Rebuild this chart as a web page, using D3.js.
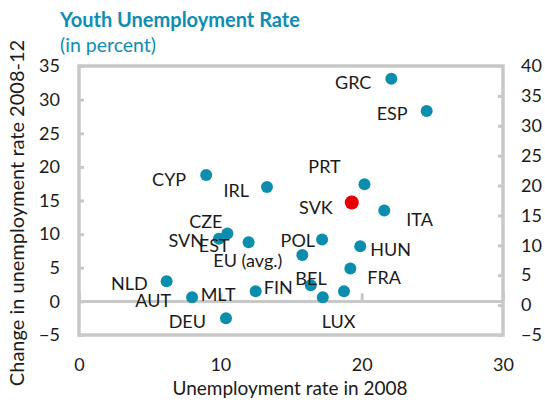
<!DOCTYPE html>
<html>
<head>
<meta charset="utf-8">
<script src="https://cdn.jsdelivr.net/npm/d3@7"></script>
<style>
  body { margin: 0; background: #fff; }
  svg { display: block; font-family: Lato, "Open Sans", sans-serif; }
</style>
</head>
<body>
<script>
// youth unemployment: rate in 2008 vs change 2008-12
var countries = ["GRC", "ESP", "CYP", "IRL", "PRT", "SVK", "ITA", "CZE", "SVN", "EST", "POL", "HUN",
                 "EU (avg.)", "FRA", "NLD", "AUT", "DEU", "MLT", "FIN", "LUX", "BEL"];
var rate2008 = [22.1, 24.6, 9.0, 13.3, 20.2, 19.3, 21.6, 10.5, 9.9, 12.0, 17.2, 19.9,
                15.8, 19.2, 6.2, 8.0, 10.4, 12.5, 16.4, 17.25, 18.75];
var change = [33.1, 28.3, 18.8, 17.0, 17.4, 14.7, 13.5, 10.1, 9.3, 8.8, 9.2, 8.2,
              6.9, 4.9, 3.0, 0.6, -2.5, 1.5, 2.4, 0.6, 1.5];
var highlight = "SVK";

var xTicks = [0, 10, 20, 30];
var yLeftTicks = [-5, 0, 5, 10, 15, 20, 25, 30, 35];
var yRightTicks = [-5, 0, 5, 10, 15, 20, 25, 30, 35, 40];

// label placement relative to the marker (px), like the excel labels
var labelPos = {
  "GRC": [-20, 10, "end"], "ESP": [-19, 9, "end"], "CYP": [-20, 11, "end"],
  "IRL": [-18, 10, "end"], "PRT": [-40, -11, "middle"], "SVK": [-19, 11, "end"],
  "ITA": [22, 15, "start"], "CZE": [-5, -5, "end"], "SVN": [-15, 8, "end"],
  "EST": [-19, 10, "end"], "POL": [-7, 7, "end"], "HUN": [10, 10, "start"],
  "EU (avg.)": [-20, 12, "end"], "FRA": [17, 16, "start"], "NLD": [-19, 9, "end"],
  "AUT": [-21, 10, "end"], "DEU": [-20, 10, "end"], "MLT": [-55, 10, "start"],
  "FIN": [-47, 9, "start"], "LUX": [-1, 31, "start"], "BEL": [-33, -6, "middle"]
};

var width = 545, height = 402;
var plot = {left: 79, right: 503, top: 66, bottom: 335};
var gridColor = "#c8c8c8";
var dotColor = "#0b8eae";
var titleColor = "#0d8db5";

var svg = d3.select("body").append("svg")
  .attr("width", width)
  .attr("height", height);

var x = d3.scaleLinear().domain([0, 30]).range([plot.left, plot.right]);
var yL = d3.scaleLinear().domain([-5, 35]).range([plot.bottom, plot.top]);
var yR = d3.scaleLinear().domain([-5, 40]).range([plot.bottom, plot.top]);

// titles
svg.append("text").attr("x", 60).attr("y", 27)
  .attr("fill", titleColor).attr("font-size", 20).attr("font-weight", "bold")
  .text("Youth Unemployment Rate");
svg.append("text").attr("x", 60).attr("y", 52)
  .attr("fill", titleColor).attr("font-size", 19.5)
  .text("(in percent)");

// left axis
var gL = svg.append("g").attr("transform", "translate(" + plot.left + ",0)")
  .call(d3.axisLeft(yL).tickValues(yLeftTicks).tickSizeInner(-5).tickSizeOuter(0).tickPadding(19));
// right axis
var gR = svg.append("g").attr("transform", "translate(" + plot.right + ",0)")
  .call(d3.axisRight(yR).tickValues(yRightTicks).tickSizeInner(-5).tickSizeOuter(0).tickPadding(18));
// bottom labels
var gB = svg.append("g").attr("transform", "translate(0," + plot.bottom + ")")
  .call(d3.axisBottom(x).tickValues(xTicks).tickSize(0).tickPadding(23));
// x ticks sit on the zero line
var gZ = svg.append("g").attr("transform", "translate(0," + yL(0) + ")")
  .call(d3.axisTop(x).tickValues(xTicks).tickSize(8).tickFormat(""));

[gL, gR, gB, gZ].forEach(function(g) {
  g.select(".domain").remove();
  g.selectAll("line").attr("stroke", gridColor).attr("stroke-width", 3);
  g.selectAll("text").attr("font-size", 18).attr("fill", "#1a1a1a")
    .attr("font-family", "Lato, 'Open Sans', sans-serif");
});

// zero line + frame
svg.append("line")
  .attr("x1", plot.left).attr("x2", plot.right)
  .attr("y1", yL(0)).attr("y2", yL(0))
  .attr("stroke", gridColor).attr("stroke-width", 3);
svg.append("rect")
  .attr("x", plot.left).attr("y", plot.top)
  .attr("width", plot.right - plot.left).attr("height", plot.bottom - plot.top)
  .attr("fill", "none").attr("stroke", gridColor).attr("stroke-width", 3.5);

// axis titles
svg.append("text")
  .attr("x", 290).attr("y", 395)
  .attr("text-anchor", "middle").attr("font-size", 19).attr("fill", "#1a1a1a")
  .text("Unemployment rate in 2008");
svg.append("text")
  .attr("transform", "translate(24,213) rotate(-90)")
  .attr("text-anchor", "middle").attr("font-size", 20).attr("fill", "#1a1a1a")
  .text("Change in unemployment rate 2008-12");

// points
var data = countries.map(function(c, i) {
  return {name: c, x: rate2008[i], y: change[i]};
});

svg.selectAll("circle.pt").data(data).enter()
  .append("circle")
  .attr("class", "pt")
  .attr("cx", function(d) { return x(d.x); })
  .attr("cy", function(d) { return yL(d.y); })
  .attr("r", function(d) { return d.name == highlight ? 7 : 6; })
  .attr("fill", function(d) { return d.name == highlight ? "#e60000" : dotColor; });

svg.selectAll("text.lbl").data(data).enter()
  .append("text")
  .attr("class", "lbl")
  .attr("x", function(d) { return x(d.x) + labelPos[d.name][0]; })
  .attr("y", function(d) { return yL(d.y) + labelPos[d.name][1]; })
  .attr("text-anchor", function(d) { return labelPos[d.name][2]; })
  .attr("font-size", 18).attr("fill", "#1a1a1a")
  .text(function(d) { return d.name; });
</script>
</body>
</html>
